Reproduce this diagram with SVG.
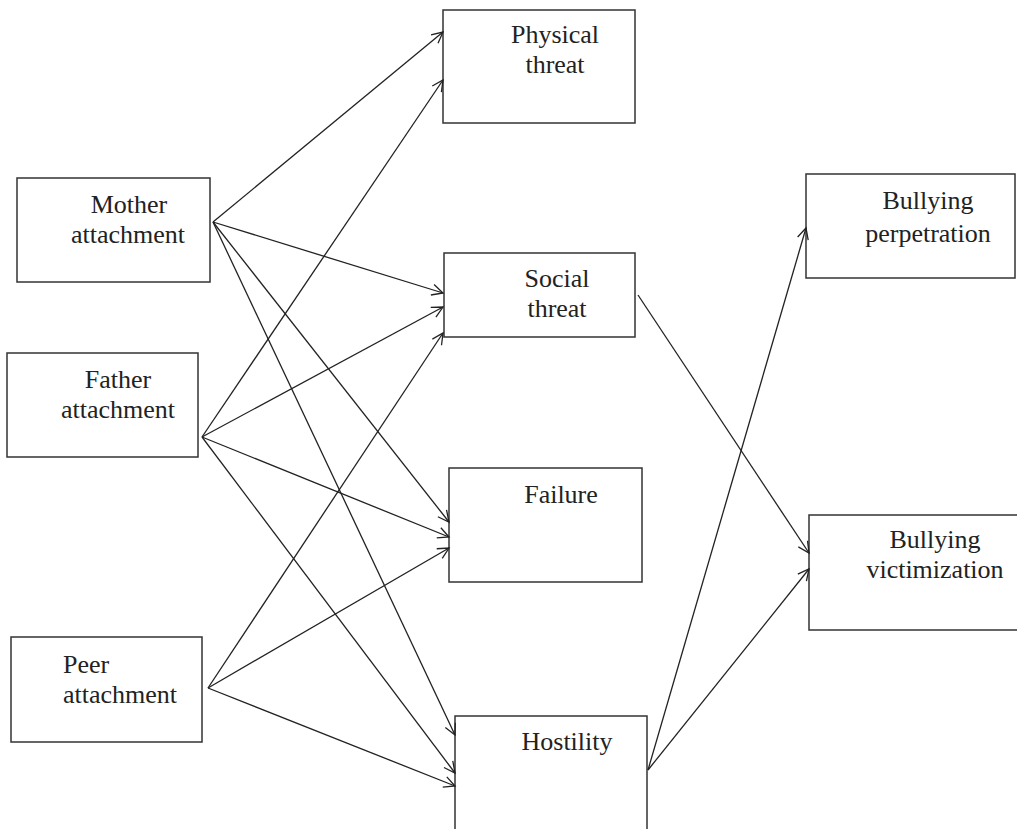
<svg xmlns="http://www.w3.org/2000/svg" width="1017" height="829" viewBox="0 0 1017 829">
<style>
.box{fill:#fff;stroke:#333;stroke-width:1.5}
.t{font-size:26px;fill:#222;text-anchor:middle}
.c{fill:none;stroke:#222;stroke-width:1.3;marker-end:url(#ah)}
</style>
<defs>
<marker id="ah" markerUnits="userSpaceOnUse" markerWidth="14" markerHeight="14" viewBox="0 0 14 14" refX="12" refY="7" orient="auto">
<path d="M1,1.5 L12,7 L1,12.5" fill="none" stroke="#222" stroke-width="1.3"/>
</marker>
</defs>
<rect width="1017" height="829" fill="#fff"/>
<g font-family="Liberation Serif, DejaVu Serif, Noto Serif, serif">
<g id="mother"><rect class="box" x="17" y="178" width="193" height="104"/><text class="t" x="129" y="213">Mother</text><text class="t" x="128" y="243">attachment</text></g>
<g id="father"><rect class="box" x="7" y="353" width="191" height="104"/><text class="t" x="118" y="388">Father</text><text class="t" x="118" y="418">attachment</text></g>
<g id="peer"><rect class="box" x="11" y="637" width="191" height="105"/><text class="t" x="63" y="673" style="text-anchor:start">Peer</text><text class="t" x="63" y="703" style="text-anchor:start">attachment</text></g>
<g id="physical"><rect class="box" x="443" y="10" width="192" height="113"/><text class="t" x="555" y="43">Physical</text><text class="t" x="555" y="73">threat</text></g>
<g id="social"><rect class="box" x="444" y="253" width="191" height="84"/><text class="t" x="557" y="287">Social</text><text class="t" x="557" y="317">threat</text></g>
<g id="failure"><rect class="box" x="449" y="468" width="193" height="114"/><text class="t" x="561" y="503">Failure</text></g>
<g id="hostility"><rect class="box" x="455" y="716" width="192" height="125"/><text class="t" x="567" y="750">Hostility</text></g>
<g id="perpetration"><rect class="box" x="806" y="174" width="209" height="104"/><text class="t" x="928" y="209">Bullying</text><text class="t" x="928" y="242">perpetration</text></g>
<g id="victimization"><rect class="box" x="809" y="515" width="210" height="115"/><text class="t" x="935" y="548">Bullying</text><text class="t" x="935" y="578">victimization</text></g>
</g>
<g id="connectors">
<line class="c" x1="213" y1="222" x2="443" y2="32"/>
<line class="c" x1="213" y1="222" x2="443" y2="293"/>
<line class="c" x1="213" y1="222" x2="449" y2="522"/>
<line class="c" x1="213" y1="222" x2="455" y2="735"/>
<line class="c" x1="202" y1="437" x2="443" y2="80"/>
<line class="c" x1="202" y1="437" x2="443" y2="307"/>
<line class="c" x1="202" y1="437" x2="449" y2="537"/>
<line class="c" x1="202" y1="437" x2="455" y2="773"/>
<line class="c" x1="208" y1="688" x2="443" y2="333"/>
<line class="c" x1="208" y1="688" x2="449" y2="548"/>
<line class="c" x1="208" y1="688" x2="455" y2="786"/>
<line class="c" x1="638" y1="295" x2="809" y2="553"/>
<line class="c" x1="648" y1="770" x2="806" y2="228"/>
<line class="c" x1="648" y1="770" x2="809" y2="569"/>
</g>
</svg>
